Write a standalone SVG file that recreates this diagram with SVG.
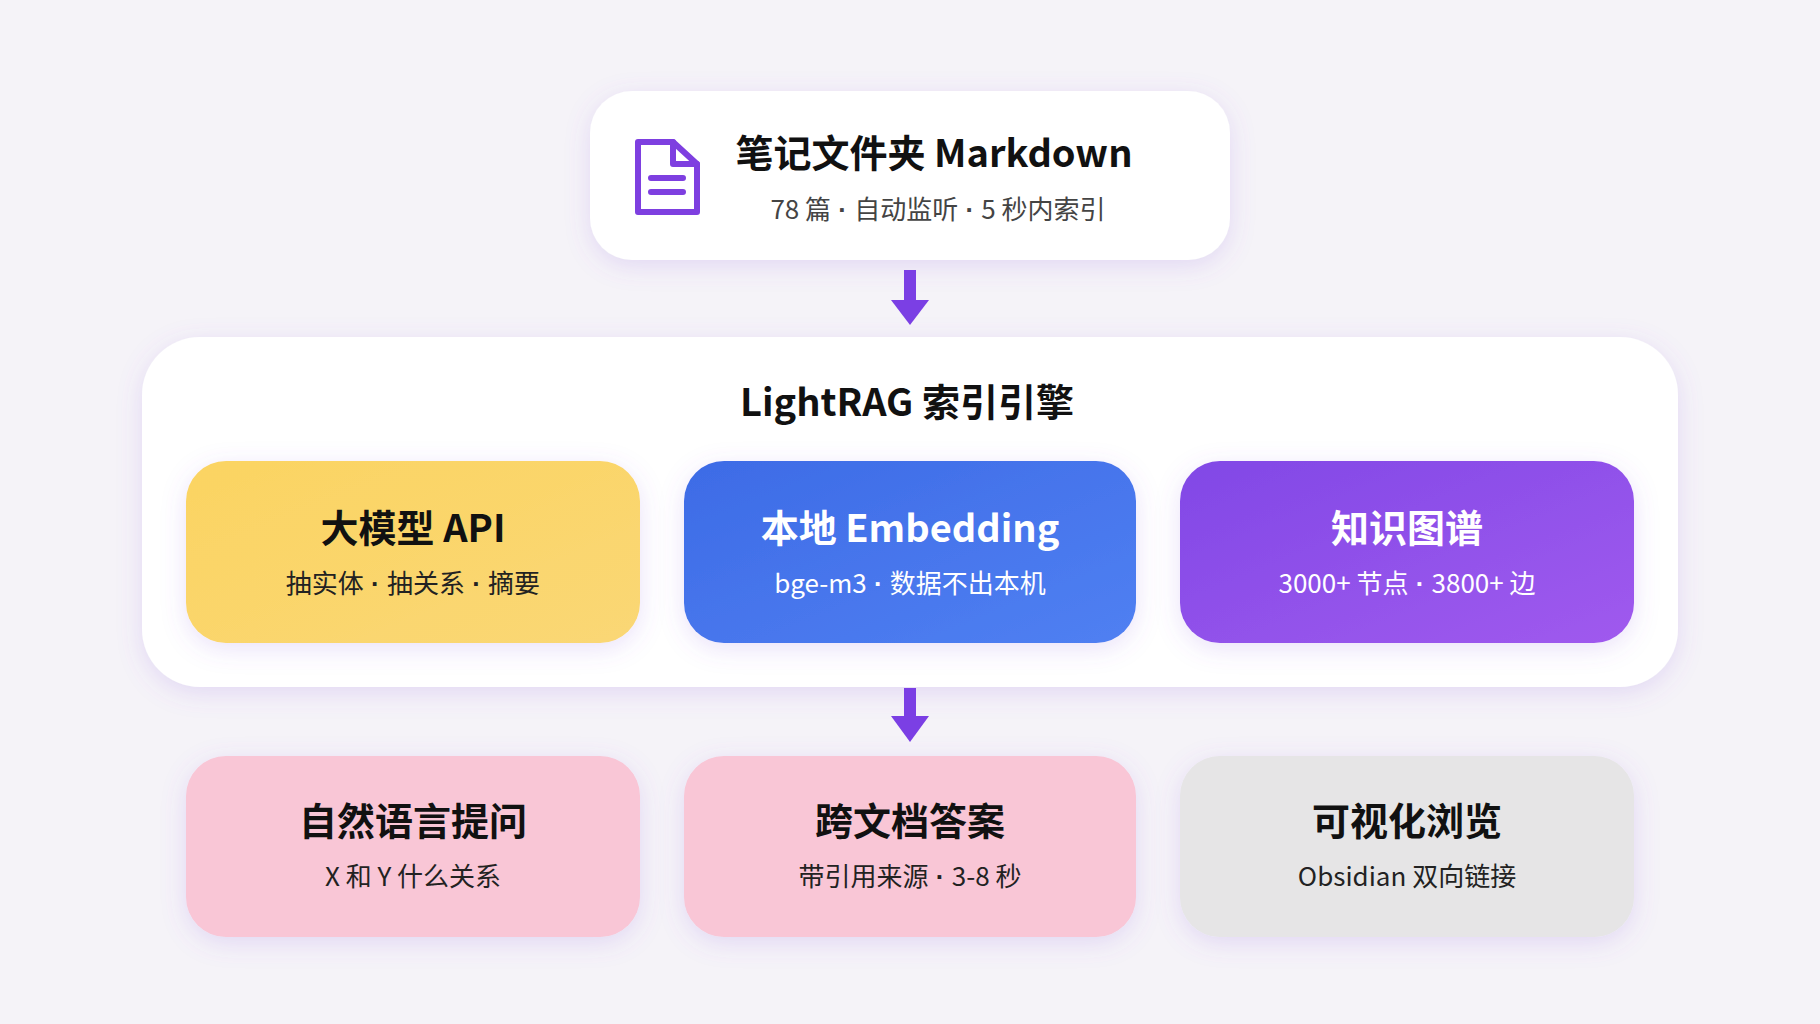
<svg xmlns="http://www.w3.org/2000/svg" width="1820" height="1024" viewBox="0 0 1820 1024">
<defs>
<linearGradient id="gy" x1="0" y1="0" x2="1" y2="1"><stop offset="0" stop-color="#FBD462"/><stop offset="1" stop-color="#FAD775"/></linearGradient>
<linearGradient id="gb" x1="0" y1="0" x2="1" y2="1"><stop offset="0" stop-color="#3D6BE6"/><stop offset="1" stop-color="#5080F2"/></linearGradient>
<linearGradient id="gp" x1="0" y1="0" x2="1" y2="1"><stop offset="0" stop-color="#8148E6"/><stop offset="1" stop-color="#A05AEE"/></linearGradient>
<filter id="sh" x="-20%" y="-30%" width="140%" height="160%"><feDropShadow dx="0" dy="6" stdDeviation="12" flood-color="#8a5ce0" flood-opacity="0.18"/></filter>
<style>
text{font-family:"Noto Sans CJK SC","Noto Sans",sans-serif;text-anchor:middle}
.t{font-size:38px;font-weight:700;fill:#111}
.s{font-size:26px;fill:#222}
.w{fill:#fff}
.d{font-family:"Liberation Sans",sans-serif;font-weight:700}
</style>
</defs>
<rect width="1820" height="1024" fill="#F5F3F8"/>
<g id="source">
<rect x="590" y="91" width="640" height="169" rx="42" fill="#fff" filter="url(#sh)"/>
<g fill="none" stroke="#7E3FE0" stroke-width="6" stroke-linejoin="round" stroke-linecap="round">
<path d="M638 142 h35 l24 22 v48 h-59 z"/><path d="M673 142 v22 h24"/>
<path d="M651 178 h32 M651 192 h32"/></g>
<text class="t" x="934" y="167">笔记文件夹 Markdown</text>
<text class="s" x="938" y="219" style="fill:#444">78 篇<tspan class="d"> · </tspan>自动监听<tspan class="d"> · </tspan>5 秒内索引</text>
</g>
<g id="engine">
<rect x="142" y="337" width="1536" height="350" rx="58" fill="#fff" filter="url(#sh)"/>
<text class="t" x="907" y="416">LightRAG 索引引擎</text>
</g>
<g id="llm"><rect x="186" y="461" width="454" height="182" rx="40" fill="url(#gy)" filter="url(#sh)"/>
<text class="t" x="413" y="542">大模型 API</text><text class="s" x="413" y="593">抽实体<tspan class="d"> · </tspan>抽关系<tspan class="d"> · </tspan>摘要</text></g>
<g id="embed"><rect x="684" y="461" width="452" height="182" rx="40" fill="url(#gb)" filter="url(#sh)"/>
<text class="t w" x="910" y="542">本地 Embedding</text><text class="s w" x="910" y="593">bge-m3<tspan class="d"> · </tspan>数据不出本机</text></g>
<g id="kg"><rect x="1180" y="461" width="454" height="182" rx="40" fill="url(#gp)" filter="url(#sh)"/>
<text class="t w" x="1407" y="542">知识图谱</text><text class="s w" x="1407" y="593">3000+ 节点<tspan class="d"> · </tspan>3800+ 边</text></g>
<g id="ask"><rect x="186" y="756" width="454" height="181" rx="40" fill="#F9C6D6" filter="url(#sh)"/>
<text class="t" x="413" y="835">自然语言提问</text><text class="s" x="413" y="886">X 和 Y 什么关系</text></g>
<g id="answer"><rect x="684" y="756" width="452" height="181" rx="40" fill="#F9C6D6" filter="url(#sh)"/>
<text class="t" x="910" y="835">跨文档答案</text><text class="s" x="910" y="886">带引用来源<tspan class="d"> · </tspan>3-8 秒</text></g>
<g id="view"><rect x="1180" y="756" width="454" height="181" rx="40" fill="#E6E5E6" filter="url(#sh)"/>
<text class="t" x="1407" y="835">可视化浏览</text><text class="s" x="1407" y="886">Obsidian 双向链接</text></g>
<g id="connectors" fill="#7B3FE4">
<rect x="904" y="270" width="12" height="34"/><polygon points="891,300 929,300 910,325"/>
<rect x="904" y="688" width="12" height="32"/><polygon points="891,716 929,716 910,742"/>
</g>
</svg>
